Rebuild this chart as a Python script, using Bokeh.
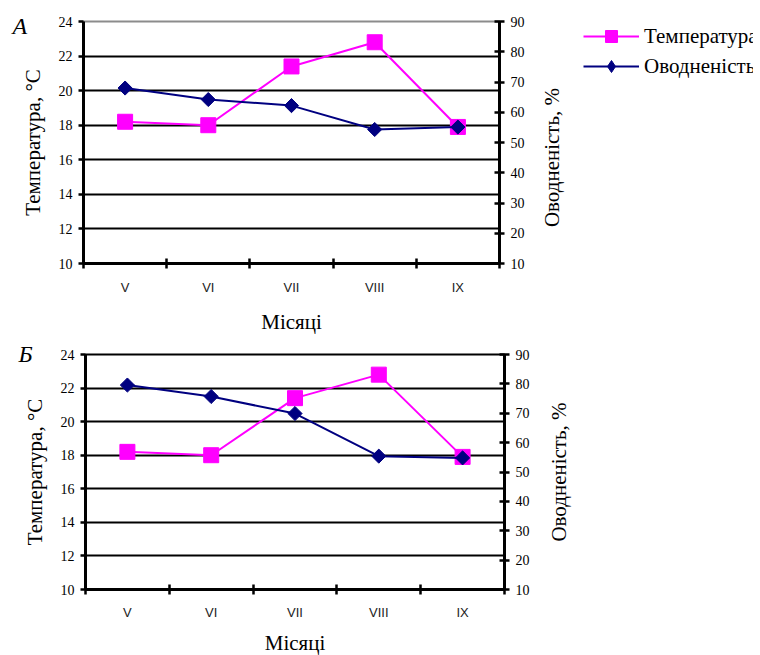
import math
from bokeh.plotting import figure
from bokeh.models import (Range1d, LinearAxis, FixedTicker, Legend, LegendItem, Title)
from bokeh.layouts import row
from bokeh.embed import file_html
from bokeh.resources import INLINE

# ---- data ----
months = ["V", "VI", "VII", "VIII", "IX"]
temp_a = [18.2, 18.0, 21.4, 22.8, 17.9]
water_a = [68.0, 64.2, 62.2, 54.3, 55.1]
temp_b = [18.2, 18.0, 21.4, 22.8, 17.9]
water_b = [79.6, 75.7, 69.9, 55.4, 54.8]
temp_ticks = [10, 12, 14, 16, 18, 20, 22, 24]
water_ticks = [10, 20, 30, 40, 50, 60, 70, 80, 90]
grid_ticks = [12, 14, 16, 18, 20, 22]

TEMP_LABEL = "Температура"
WATER_LABEL = "Оводненість"
XLABEL = "Місяці"
YLABEL_L = "Температура, °C"
YLABEL_R = "Оводненість, %"

PINK = "#FF00FF"
NAVY = "#000080"
SERIF = "Liberation Serif"
SANS = "Liberation Sans"
TITLE_SIZE = "21px"

xs = list(range(1, len(months) + 1))


def add_series(p, temp, water, y_name, water_marker="square", water_angle=math.pi / 4,
               water_size=10):
    lt = p.line(xs, temp, line_color=PINK, line_width=2)
    st = p.scatter(xs, temp, marker="square", size=15, fill_color=PINK, line_color=PINK)
    lw = p.line(xs, water, line_color=NAVY, line_width=2, y_range_name=y_name)
    sw = p.scatter(xs, water, marker=water_marker, size=water_size, angle=water_angle,
                   fill_color=NAVY, line_color=NAVY, y_range_name=y_name)
    return lt, st, lw, sw


def right_title(p, standoff):
    # rotated title reading bottom-to-top, centred on the frame height
    p.add_layout(Title(text=YLABEL_R, align="center", vertical_align="bottom",
                       standoff=standoff, text_font=SERIF, text_font_size=TITLE_SIZE,
                       text_font_style="normal", text_color="black"), "left")


def make_panel(temp, water, letter, outline_color,
               fw, fh, left, top, bottom, letter_dx, letter_standoff,
               xl_standoff, xt_standoff):
    p = figure(frame_width=fw, frame_height=fh,
               x_range=Range1d(0.5, len(months) + 0.5),
               y_range=Range1d(temp_ticks[0], temp_ticks[-1]),
               output_backend="svg", toolbar_location=None,
               min_border_left=left, min_border_top=top,
               min_border_bottom=bottom, min_border_right=0)
    p.extra_y_ranges = {"w": Range1d(water_ticks[0], water_ticks[-1])}
    p.outline_line_color = outline_color
    p.outline_line_width = 2
    p.background_fill_color = "white"
    p.border_fill_color = "white"

    # panel letter as a title overlapping the top border
    p.title.text = letter
    p.title.align = "left"
    p.title.offset = letter_dx
    p.title.standoff = letter_standoff
    p.title.text_font = SERIF
    p.title.text_font_size = "24px"
    p.title.text_font_style = "italic"
    p.title.text_color = "black"

    # grid
    p.xgrid.visible = False
    p.ygrid.ticker = FixedTicker(ticks=grid_ticks)
    p.ygrid.grid_line_color = "black"
    p.ygrid.grid_line_width = 2

    # x axis
    xa = p.xaxis[0]
    xa.ticker = FixedTicker(ticks=xs, minor_ticks=[x - 0.5 for x in xs] + [xs[-1] + 0.5])
    xa.major_label_overrides = {x: m for x, m in zip(xs, months)}
    xa.major_tick_in = 0
    xa.major_tick_out = 0
    xa.minor_tick_in = 5
    xa.minor_tick_out = 5
    xa.minor_tick_line_width = 2.5
    xa.minor_tick_line_color = "black"
    xa.axis_line_width = 3
    xa.axis_line_color = "black"
    xa.major_label_text_font = SANS
    xa.major_label_text_font_size = "13px"
    xa.major_label_text_color = "#222222"
    xa.major_label_standoff = xt_standoff
    xa.axis_label = XLABEL
    xa.axis_label_text_font = SERIF
    xa.axis_label_text_font_size = TITLE_SIZE
    xa.axis_label_text_font_style = "normal"
    xa.axis_label_text_color = "black"
    xa.axis_label_standoff = xl_standoff

    # left axis
    ya = p.yaxis[0]
    ya.ticker = FixedTicker(ticks=temp_ticks)
    ya.major_tick_in = 0
    ya.major_tick_out = 5
    ya.major_tick_line_width = 2.5
    ya.minor_tick_line_color = None
    ya.axis_line_width = 3
    ya.major_label_text_font = SERIF
    ya.major_label_text_font_size = "14px"
    ya.major_label_text_color = "black"
    ya.major_label_standoff = 6
    ya.axis_label = YLABEL_L
    ya.axis_label_text_font = SERIF
    ya.axis_label_text_font_size = TITLE_SIZE
    ya.axis_label_text_font_style = "normal"
    ya.axis_label_text_color = "black"
    ya.axis_label_standoff = 11

    # right axis (its title is drawn by the neighbouring figure)
    ra = LinearAxis(y_range_name="w", ticker=FixedTicker(ticks=water_ticks))
    ra.major_tick_in = 5
    ra.major_tick_out = 5
    ra.major_tick_line_width = 2.5
    ra.minor_tick_line_color = None
    ra.axis_line_width = 3
    ra.major_label_text_font = SERIF
    ra.major_label_text_font_size = "14px"
    ra.major_label_text_color = "black"
    ra.major_label_standoff = 6
    p.add_layout(ra, "right")

    add_series(p, temp, water, "w")
    return p


pa = make_panel(temp_a, water_a, "А", "#8c8c8c",
                fw=416, fh=242, left=83, top=21, bottom=73,
                letter_dx=-71, letter_standoff=-34, xl_standoff=12, xt_standoff=11)
pb = make_panel(temp_b, water_b, "Б", "black",
                fw=419, fh=235, left=85, top=18, bottom=66,
                letter_dx=-67, letter_standoff=-24, xl_standoff=8, xt_standoff=10)

# side figure for panel A: right-axis title + legend
# (its own copies of the series lie outside its visible range)
pl = figure(frame_width=180, frame_height=272,
            x_range=Range1d(-20, -19), y_range=Range1d(-20, -19),
            x_axis_type=None, y_axis_type=None,
            output_backend="svg", toolbar_location=None,
            min_border_left=46, min_border_right=0,
            min_border_top=15, min_border_bottom=49)
pl.extra_y_ranges = {"w": Range1d(-20, -19)}
pl.outline_line_color = None
pl.background_fill_color = "white"
pl.border_fill_color = "white"
right_title(pl, 20)
lt, st, lw, sw = add_series(pl, temp_a, water_a, "w",
                            water_marker="diamond", water_angle=0, water_size=16)

leg = Legend(items=[LegendItem(label=TEMP_LABEL, renderers=[lt, st]),
                    LegendItem(label=WATER_LABEL, renderers=[lw, sw])],
             location=(10, 212))
leg.glyph_width = 56
leg.glyph_height = 30
leg.label_height = 30
leg.label_standoff = 5
leg.spacing = 0
leg.padding = 0
leg.margin = 0
leg.border_line_alpha = 0
leg.background_fill_alpha = 0
leg.label_text_font = SERIF
leg.label_text_font_size = "21px"
leg.label_text_color = "black"
pl.add_layout(leg)

# side figure for panel Б: right-axis title only
pbt = figure(frame_width=10, frame_height=235,
             x_range=Range1d(0, 1), y_range=Range1d(0, 1),
             x_axis_type=None, y_axis_type=None,
             output_backend="svg", toolbar_location=None,
             min_border_left=48, min_border_right=0,
             min_border_top=18, min_border_bottom=66)
pbt.outline_line_color = None
pbt.background_fill_color = "white"
pbt.border_fill_color = "white"
right_title(pbt, 20)

open("out.html", "w").write(file_html([row(pa, pl, spacing=0), row(pb, pbt, spacing=0)], INLINE))
